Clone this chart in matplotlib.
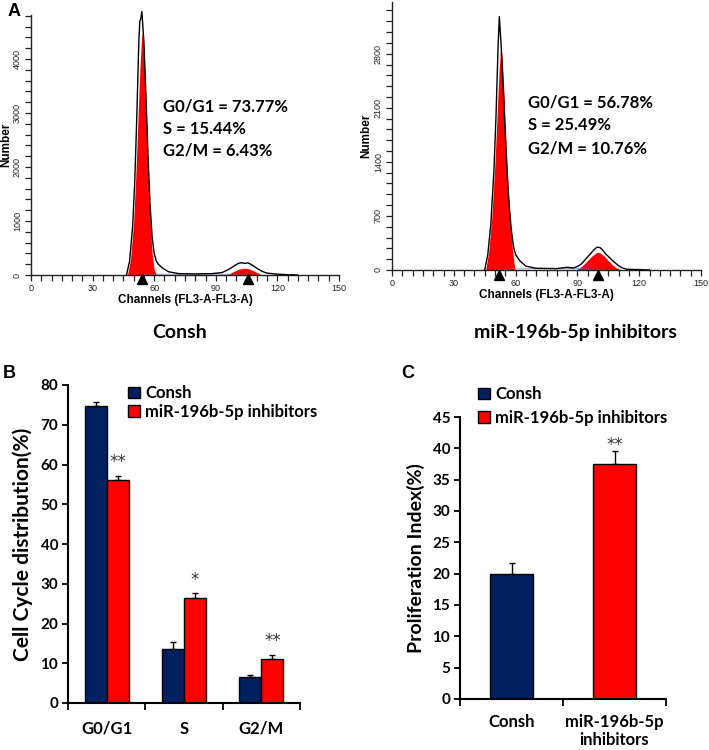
import matplotlib
matplotlib.use("Agg")
import matplotlib.pyplot as plt
import matplotlib.transforms as mtransforms
from matplotlib.patches import Patch
from matplotlib.ticker import MultipleLocator
import numpy as np

# ---------------------------------------------------------------------------
# Data
# ---------------------------------------------------------------------------
# Panel A, left histogram (Consh): outline + fitted G1 / G2 peaks
consh_ch = [46.5, 48, 49.5, 50.5, 51.5, 52.5, 53, 53.5, 54, 55, 56, 57, 58, 59, 60,
            61, 62, 64, 67, 72, 80, 88, 93, 95, 97, 99, 101, 102.5, 104, 105.5,
            107, 109, 111, 113, 115, 120, 125, 130]
consh_n = [0, 250, 900, 1700, 2900, 4300, 4700, 4750, 4880, 4300, 3300, 2200, 1300,
           700, 400, 260, 200, 130, 60, 25, 20, 25, 45, 80, 120, 170, 215, 228, 215,
           225, 200, 150, 100, 60, 35, 15, 5, 0]
consh_g1_ch = [47, 48.5, 50, 51, 52, 53, 54, 55, 56, 57, 58, 59, 60, 61]
consh_g1_n = [0, 300, 1000, 1800, 2800, 3800, 4500, 4200, 3200, 2000, 1000, 400, 100, 0]
consh_g2_ch = [95, 97, 99, 101, 103, 104.5, 106, 108, 110, 112, 113]
consh_g2_n = [0, 30, 70, 105, 122, 125, 115, 85, 45, 10, 0]
consh_s_ch = [55, 62, 70, 80, 90, 98, 105]
consh_s_n = [0, 12, 15, 15, 15, 12, 0]
consh_marks = [53.9, 105.8]

# Panel A, right histogram (miR-196b-5p inhibitors)
inh_ch = [45, 46.5, 48, 49.5, 50.5, 51.5, 52.1, 53, 54, 55, 56, 57, 58, 59, 60, 62,
          65, 70, 80, 85, 88, 90, 92, 94, 96, 98, 99.5, 101, 102, 104, 106, 108,
          110, 112, 114, 120, 125]
inh_n = [0, 200, 600, 1300, 2000, 2900, 3280, 2900, 2350, 1750, 1200, 800, 500, 300,
         200, 120, 50, 22, 18, 35, 25, 45, 80, 140, 200, 260, 295, 290, 265, 200,
         150, 100, 55, 25, 10, 5, 0]
inh_g1_ch = [45.5, 47, 48.5, 50, 51, 52, 52.8, 53.5, 54.5, 55.5, 56.5, 57.5, 58.5, 59.7]
inh_g1_n = [0, 250, 700, 1400, 2000, 2600, 2900, 2750, 2200, 1550, 1000, 550, 250, 0]
inh_g2_ch = [89, 91, 93, 95, 97, 99, 100, 101, 103, 105, 107, 109, 111.5]
inh_g2_n = [0, 25, 70, 125, 180, 220, 229, 220, 180, 120, 65, 25, 0]
inh_s_ch = [52, 60, 70, 80, 90, 97, 104]
inh_s_n = [0, 15, 18, 18, 18, 15, 0]
inh_marks = [51.9, 100.2]

consh_stats = ["G0/G1 = 73.77%", "S = 15.44%", "G2/M = 6.43%"]
inh_stats = ["G0/G1 = 56.78%", "S = 25.49%", "G2/M = 10.76%"]

# Panel B: cell cycle distribution (%)
phases = ["G0/G1", "S", "G2/M"]
consh_dist = [74.7, 13.5, 6.5]
consh_dist_err = [1.0, 1.8, 0.5]
inh_dist = [56.1, 26.5, 11.0]
inh_dist_err = [1.1, 1.1, 1.2]
dist_sig = ["**", "*", "**"]

# Panel C: proliferation index (%)
groups = ["Consh\n", "miR-196b-5p\ninhibitors"]
prolif = [19.9, 37.5]
prolif_err = [1.8, 2.0]
prolif_sig = ["", "**"]

NAVY = "#002060"
RED = "#FF0000"
BOLD_FONT = ["Lato", "DejaVu Sans"]
ARIAL = ["Liberation Sans", "DejaVu Sans"]

W, H = 709, 750
fig = plt.figure(figsize=(W / 100, H / 100), dpi=100)


def rect(x0, y0, x1, y1):
    """Pixel box (top-left origin) -> figure fraction rect."""
    return [x0 / W, 1 - y1 / H, (x1 - x0) / W, (y1 - y0) / H]


def fx(x):
    return x / W


def fy(y):
    return 1 - y / H


def histogram(ax, ch, n, g1_ch, g1_n, g2_ch, g2_n, s_ch, s_n, marks, ytop, ystep, yminor,
              ylab_x):
    ax.fill_between(g1_ch, g1_n, color=RED, lw=0, zorder=2)
    ax.fill_between(g2_ch, g2_n, color=RED, lw=0, zorder=2)
    ax.plot(s_ch, s_n, color="#6070b0", lw=0.7, alpha=0.6, zorder=2)
    ax.plot(ch, n, color="black", lw=1.0, zorder=3, clip_on=False)
    ax.set_xlim(0, 150)
    ax.set_ylim(0, ytop)
    ax.xaxis.set_major_locator(MultipleLocator(30))
    ax.xaxis.set_minor_locator(MultipleLocator(5))
    ax.yaxis.set_major_locator(MultipleLocator(ystep))
    ax.yaxis.set_minor_locator(MultipleLocator(yminor))
    for s in ("top", "right"):
        ax.spines[s].set_visible(False)
    for s in ("left", "bottom"):
        ax.spines[s].set_color("#222222")
        ax.spines[s].set_linewidth(1.0)
    ax.tick_params(which="both", direction="out", color="#222222", width=0.9,
                   labelsize=6.5, labelcolor="#222222")
    ax.tick_params(axis="x", which="both", length=4.5, pad=2)
    ax.tick_params(axis="y", which="major", length=4.5, pad=2)
    ax.tick_params(axis="y", which="minor", length=4)
    for lab in ax.get_yticklabels():
        lab.set_rotation(90)
        lab.set_va("center")
    for lab in ax.get_xticklabels() + ax.get_yticklabels():
        lab.set_family(ARIAL)
    ax.set_xlabel("Channels (FL3-A-FL3-A)", fontsize=8.5, fontweight="bold",
                  family=ARIAL, labelpad=1)
    ax.set_ylabel("Number", fontsize=8.5, fontweight="bold", family=ARIAL)
    ax.yaxis.set_label_coords(ylab_x, 0.5)
    trans = mtransforms.blended_transform_factory(ax.transData, ax.transAxes)
    ax.plot(marks, [-0.017] * len(marks), "^", color="black", ms=7,
            transform=trans, clip_on=False, zorder=5)


axA1 = fig.add_axes(rect(31, 15, 339, 275))
histogram(axA1, consh_ch, consh_n, consh_g1_ch, consh_g1_n, consh_g2_ch, consh_g2_n,
          consh_s_ch, consh_s_n, consh_marks, 4815, 1000, 200, -0.06)
axA2 = fig.add_axes(rect(392, 2, 701, 270))
histogram(axA2, inh_ch, inh_n, inh_g1_ch, inh_g1_n, inh_g2_ch, inh_g2_n,
          inh_s_ch, inh_s_n, inh_marks, 3470, 700, 140, -0.064)

for i, t in enumerate(consh_stats):
    fig.text(fx(163), fy([112, 133.5, 155][i]), t, fontsize=12, fontweight="bold",
             family=BOLD_FONT, ha="left", va="baseline")
for i, t in enumerate(inh_stats):
    fig.text(fx(528), fy([107, 130, 153][i]), t, fontsize=12, fontweight="bold",
             family=BOLD_FONT, ha="left", va="baseline")

fig.text(fx(180), fy(332), "Consh", fontsize=14, fontweight="bold", family=BOLD_FONT,
         ha="center", va="center")
fig.text(fx(575), fy(333), "miR-196b-5p inhibitors", fontsize=14, fontweight="bold",
         family=BOLD_FONT, ha="center", va="center")

for lab, (x, y) in zip("ABC", [(14, 12), (9, 373), (408, 373)]):
    fig.text(fx(x), fy(y), lab, fontsize=13, fontweight="bold", family=ARIAL,
             ha="center", va="center")


def bar_axes(ax, ytop, ystep, xpad, xva):
    for s in ("top", "right"):
        ax.spines[s].set_visible(False)
    for s in ("left", "bottom"):
        ax.spines[s].set_linewidth(1.5)
    ax.set_ylim(0, ytop)
    ax.yaxis.set_major_locator(MultipleLocator(ystep))
    ax.tick_params(axis="y", direction="out", length=4, width=1.3, labelsize=11, pad=3)
    ax.tick_params(axis="x", which="major", length=0, labelsize=12, pad=xpad)
    ax.tick_params(axis="x", which="minor", direction="out", length=5, width=1.3)
    for lab in ax.get_yticklabels() + ax.get_xticklabels():
        lab.set_family(BOLD_FONT)
        lab.set_fontweight("bold")
    for lab in ax.get_xticklabels():
        lab.set_va(xva)


# Panel B
axB = fig.add_axes(rect(68, 385, 300, 703))
xb = np.arange(len(phases))
wb = 0.286
ekw = dict(elinewidth=1.0, capthick=1.0, ecolor="black")
axB.bar(xb - wb / 2, consh_dist, wb, color=NAVY, edgecolor="black", lw=1.0,
        yerr=[[0] * 3, consh_dist_err], capsize=2.5, error_kw=ekw, label="Consh")
axB.bar(xb + wb / 2, inh_dist, wb, color=RED, edgecolor="black", lw=1.0,
        yerr=[[0] * 3, inh_dist_err], capsize=2.5, error_kw=ekw,
        label="miR-196b-5p inhibitors")
for x, v, e, s in zip(xb, inh_dist, inh_dist_err, dist_sig):
    axB.text(x + wb / 2, v + e + 2.2, s, fontsize=12, color="#333333",
             ha="center", va="baseline", family="DejaVu Sans")
axB.set_xlim(-0.5, 2.5)
axB.set_xticks(xb)
axB.set_xticklabels(phases)
axB.set_xticks([-0.5, 0.5, 1.5, 2.5], minor=True)
bar_axes(axB, 80, 10, 22, "baseline")
axB.set_ylabel("Cell Cycle distribution(%)", fontsize=15, fontweight="bold",
               family=BOLD_FONT, labelpad=5)
axB.legend(loc="upper left", bbox_to_anchor=(fx(120), fy(377)),
           bbox_transform=fig.transFigure, frameon=False, borderpad=0,
           handlelength=0.7, handleheight=0.7, handletextpad=0.3, labelspacing=0.15,
           prop=dict(family=BOLD_FONT, weight="bold", size=12))

# Panel C
axC = fig.add_axes(rect(460, 417, 666, 699))
xc = np.arange(len(groups))
axC.bar(xc, prolif, 0.41, color=[NAVY, RED], edgecolor="black", lw=1.0,
        yerr=[[0, 0], prolif_err], capsize=2.5, error_kw=ekw)
for x, v, e, s in zip(xc, prolif, prolif_err, prolif_sig):
    if s:
        axC.text(x, v + e + 0.3, s, fontsize=12, color="#333333",
                 ha="center", va="baseline", family="DejaVu Sans")
axC.set_xlim(-0.5, 1.5)
axC.set_xticks(xc)
axC.set_xticklabels(groups, linespacing=1.1)
axC.set_xticks([-0.5, 0.5, 1.5], minor=True)
bar_axes(axC, 45, 5, 11, "top")
axC.set_ylabel("Proliferation Index(%)", fontsize=14, fontweight="bold",
               family=BOLD_FONT, labelpad=5)
axC.legend(handles=[Patch(facecolor=NAVY, edgecolor="black", label="Consh"),
                    Patch(facecolor=RED, edgecolor="black", label="miR-196b-5p inhibitors")],
           loc="upper left", bbox_to_anchor=(fx(470), fy(378)),
           bbox_transform=fig.transFigure, frameon=False, borderpad=0,
           handlelength=0.7, handleheight=0.7, handletextpad=0.3, labelspacing=0.45,
           prop=dict(family=BOLD_FONT, weight="bold", size=12))

fig.savefig("out.png", dpi=100)
